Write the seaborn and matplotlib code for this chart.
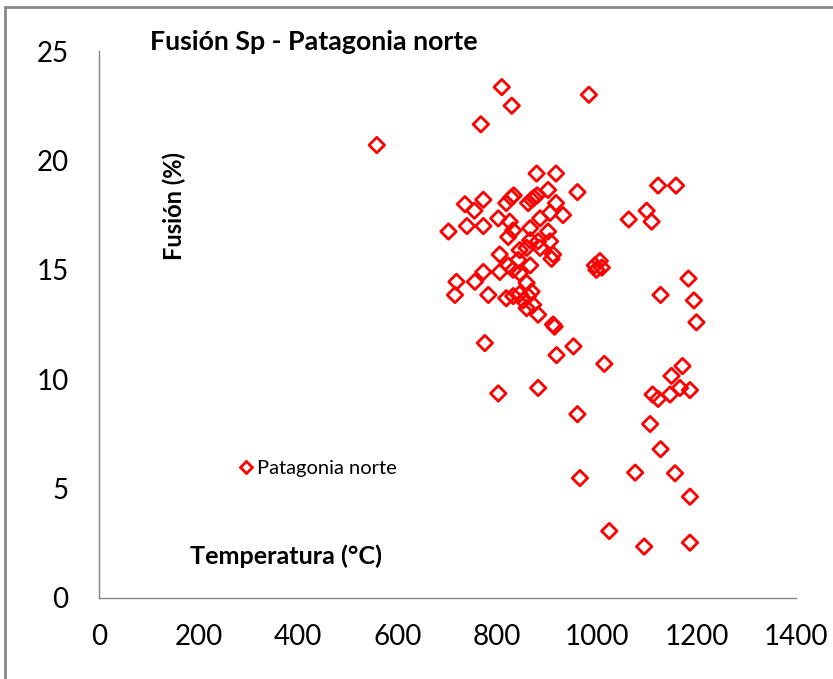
import matplotlib
matplotlib.use("Agg")
import matplotlib.pyplot as plt
import seaborn as sns
import pandas as pd
from matplotlib.lines import Line2D
from matplotlib.patches import Rectangle

temperatura = [558, 809, 829, 984, 767, 879, 918, 735, 772, 754,
               818, 828, 833, 862, 869, 874, 880, 902, 961, 918,
               932, 702, 739, 772, 802, 825, 832, 866, 886, 906,
               902, 866, 882, 822, 805, 845, 859, 886, 906, 912,
               718, 715, 755, 772, 782, 805, 822, 832, 845, 842,
               866, 859, 818, 832, 845, 852, 862, 869, 859, 872,
               882, 909, 912, 775, 996, 1006, 1010, 999, 953, 919,
               1015, 802, 882, 961, 1123, 1159, 1064, 1100, 1110, 1184,
               1128, 1195, 1200, 1172, 1150, 1167, 1187, 1112, 1123, 1147,
               1107, 1128, 1077, 1157, 1187, 1025, 1095, 1187, 966, 915]
fusion = [20.7, 23.35, 22.5, 23.0, 21.65, 19.4, 19.4, 18.0, 18.2, 17.7,
          18.05, 18.3, 18.4, 18.05, 18.2, 18.3, 18.4, 18.65, 18.55, 18.05,
          17.5, 16.75, 17.0, 17.0, 17.35, 17.2, 16.8, 16.9, 17.35, 17.6,
          16.75, 16.35, 16.3, 16.5, 15.7, 15.9, 16.0, 16.0, 16.3, 15.7,
          14.45, 13.85, 14.45, 14.9, 13.85, 14.9, 15.2, 15.0, 14.85, 15.45,
          15.2, 14.4, 13.7, 13.8, 13.9, 13.6, 13.8, 14.0, 13.25, 13.4,
          12.95, 15.5, 12.5, 11.65, 15.2, 15.4, 15.1, 15.0, 11.5, 11.1,
          10.7, 9.35, 9.6, 8.4, 18.85, 18.85, 17.3, 17.7, 17.2, 14.6,
          13.85, 13.6, 12.6, 10.6, 10.15, 9.6, 9.5, 9.3, 9.1, 9.3,
          7.95, 6.8, 5.73, 5.7, 4.63, 3.06, 2.35, 2.53, 5.48, 12.4]
serie = "Patagonia norte"
x_ticks = [0, 200, 400, 600, 800, 1000, 1200, 1400]
y_ticks = [0, 5, 10, 15, 20, 25]

df = pd.DataFrame({"Temperatura": temperatura, "Fusion": fusion})

sns.set_style("white")
plt.rcParams["font.family"] = ["Lato", "DejaVu Sans"]
plt.rcParams["text.color"] = "#000000"

W, H = 833, 679
fig = plt.figure(figsize=(W / 100, H / 100), dpi=100)
ax = fig.add_axes([99 / W, 1 - 598 / H, (796 - 99) / W, (598 - 51) / H])

sns.scatterplot(data=df, x="Temperatura", y="Fusion", ax=ax, marker="D", s=62,
                facecolor="none", edgecolor="#ff0000", linewidth=2.0, legend=False)

ax.set_xlim(0, 1400)
ax.set_ylim(0, 25)
ax.set_xticks(x_ticks)
ax.set_yticks(y_ticks)
ax.set_xlabel("")
ax.set_ylabel("")
for s in ["top", "right"]:
    ax.spines[s].set_visible(False)
for s in ["left", "bottom"]:
    ax.spines[s].set_color("#868686")
    ax.spines[s].set_linewidth(1.0)
ax.tick_params(axis="both", direction="in", length=5, width=1, color="#868686",
               labelsize=20, labelcolor="#000000")
ax.tick_params(axis="y", pad=22)
ax.tick_params(axis="x", pad=19)
ax.grid(False)

fig.text(150 / W, 1 - 42 / H, "Fusión Sp - Patagonia norte", fontsize=19.3,
         fontweight="bold", ha="left", va="center", color="#000000")
fig.text(174 / W, 1 - 206 / H, "Fusión (%)", fontsize=17, fontweight="bold",
         rotation=90, ha="center", va="center", color="#000000")
fig.text(190 / W, 1 - 556 / H, "Temperatura (°C)", fontsize=18.2,
         fontweight="bold", ha="left", va="center", color="#000000")

handle = Line2D([], [], marker="D", linestyle="none", markerfacecolor="none",
                markeredgecolor="#ff0000", markeredgewidth=2.0, markersize=6)
leg = fig.legend([handle], [serie], loc="center left",
                 bbox_to_anchor=(236 / W, 1 - 468 / H), frameon=False,
                 fontsize=14.5, handlelength=1.0, handletextpad=0.05,
                 borderpad=0, borderaxespad=0)
for t in leg.get_texts():
    t.set_color("#000000")

fig.patches.append(Rectangle((5 / W, -0.5), 1.5, 0.5 + 1 - 7 / H,
                             transform=fig.transFigure, fill=False,
                             edgecolor="#888888", linewidth=2.0))

fig.savefig("out.png", dpi=100)
